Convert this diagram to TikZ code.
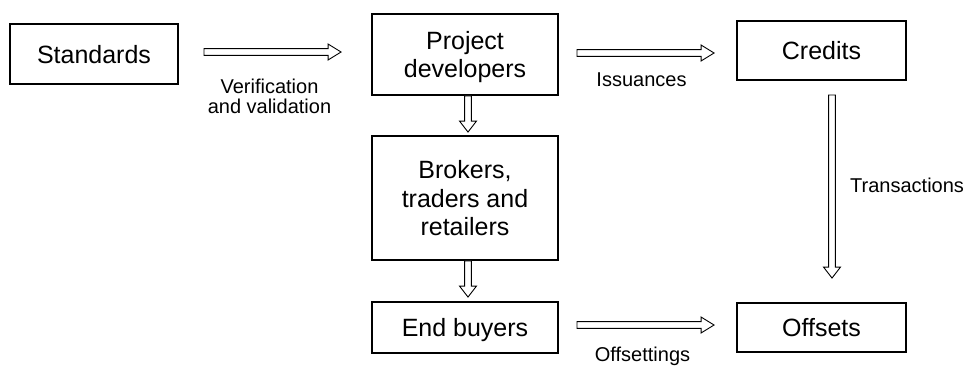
\documentclass[tikz,border=0pt]{standalone}
\usepackage{fontspec}
\setmainfont{Liberation Sans}
\usetikzlibrary{calc}

% hollow block arrows, pointing right or down, between two named coordinates
\newcommand\hollowright[2]{%
  \draw[hollow] ($(#1)+(0,3.4)$) -- ($(#2)+(-13,3.4)$) -- ($(#2)+(-13,8)$) -- (#2)
    -- ($(#2)+(-13,-8)$) -- ($(#2)+(-13,-3.4)$) -- ($(#1)+(0,-3.4)$) -- cycle;}
\newcommand\hollowdown[2]{%
  \draw[hollow] ($(#1)+(-3.4,0)$) -- ($(#2)+(-3.4,-11)$) -- ($(#2)+(-8.5,-11)$) -- (#2)
    -- ($(#2)+(8.5,-11)$) -- ($(#2)+(3.4,-11)$) -- ($(#1)+(3.4,0)$) -- cycle;}

\begin{document}
\begin{tikzpicture}[x=1pt,y=-1pt,
  box/.style={draw, line width=1.9pt, rectangle, inner sep=0pt, align=center,
    text depth=0pt, font=\fontsize{25}{28.5}\selectfont},
  hollow/.style={draw, line width=0.9pt, fill=white},
  lbl/.style={inner sep=0pt, align=center, font=\fontsize{20}{20}\selectfont}]
  \useasboundingbox (0,0) rectangle (966,365);

  % boxes
  \node[box, minimum width=168, minimum height=60] (std) at (94,54) {Standards};
  \node[box, minimum width=186, minimum height=81] (pd) at (465,54.5) {Project\\developers};
  \node[box, minimum width=186, minimum height=124] (br) at (465,198) {Brokers,\\traders and\\retailers};
  \node[box, minimum width=186, minimum height=51] (eb) at (465,327.5) {End buyers};
  \node[box, minimum width=169, minimum height=59] (cr) at (821.5,50.5) {Credits};
  \node[box, minimum width=169, minimum height=49] (of) at (821.5,327.5) {Offsets};

  % arrow end points
  \coordinate (a1s) at ($(std.east)+(25,-2)$);
  \coordinate (a1e) at ($(pd.west)+(-30,-2.5)$);
  \coordinate (a2s) at ($(pd.east)+(18,-1.5)$);
  \coordinate (a2e) at ($(cr.west)+(-22,2.5)$);
  \coordinate (a3s) at ($(eb.east)+(18,-2.5)$);
  \coordinate (a3e) at ($(of.west)+(-22,-2.5)$);
  \coordinate (v1s) at ($(pd.south)+(3,0)$);
  \coordinate (v1e) at ($(br.north)+(3,-3)$);
  \coordinate (v2s) at ($(br.south)+(3,0)$);
  \coordinate (v2e) at ($(eb.north)+(3,-4)$);
  \coordinate (v3s) at ($(cr.south)+(10.5,14)$);
  \coordinate (v3e) at ($(of.north)+(10.5,-24)$);

  % arrows
  \hollowright{a1s}{a1e}
  \hollowright{a2s}{a2e}
  \hollowright{a3s}{a3e}
  \hollowdown{v1s}{v1e}
  \hollowdown{v2s}{v2e}
  \hollowdown{v3s}{v3e}

  % arrow labels
  \node[lbl, anchor=north] (l1) at ($(a1s)!0.5!(a1e)+(-3,27)$) {Verification\\and validation};
  \node[lbl, anchor=base] (l2) at ($(a2s)!0.5!(a2e)+(-4,33)$) {Issuances};
  \node[lbl, anchor=base] (l3) at ($(a3s)!0.5!(a3e)+(-3,36)$) {Offsettings};
  \node[lbl, anchor=base west] (l4) at ($(v3s)!0.5!(v3e)+(18,6)$) {Transactions};
\end{tikzpicture}
\end{document}
